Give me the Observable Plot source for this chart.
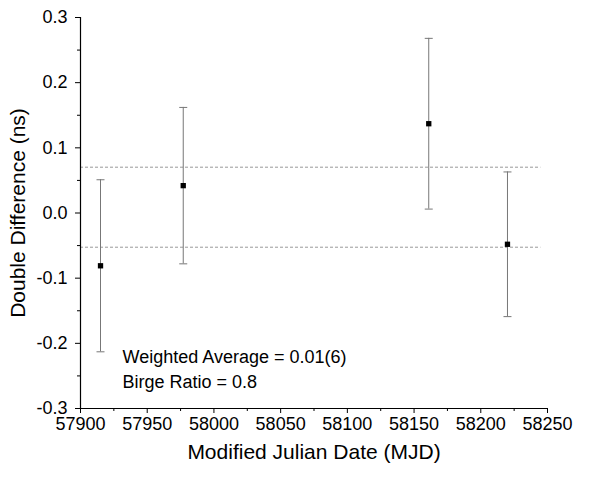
<!DOCTYPE html>
<html>
<head>
<meta charset="utf-8">
<script src="https://cdn.jsdelivr.net/npm/d3@7"></script>
<script src="https://cdn.jsdelivr.net/npm/@observablehq/plot@0.6"></script>
<style>
  html, body { margin: 0; padding: 0; background: #fff; }
  #chart { width: 595px; height: 477px; }
</style>
</head>
<body>
<div id="chart"></div>
<script>
// Data
const mjd = [57915, 57977, 58161, 58220];
const doubleDiff = [-0.081, 0.042, 0.137, -0.048];
const errors = [0.132, 0.120, 0.131, 0.111];
const avgBand = [0.0703, -0.0525];
const xTicks = [57900, 57950, 58000, 58050, 58100, 58150, 58200, 58250];
const xMinor = [57925, 57975, 58025, 58075, 58125, 58175, 58225];
const yTicks = [-0.3, -0.2, -0.1, 0.0, 0.1, 0.2, 0.3];
const yMinor = [-0.25, -0.15, -0.05, 0.05, 0.15, 0.25];
const notes = ["Weighted Average = 0.01(6)", "Birge Ratio = 0.8"];
const noteY = [-0.222, -0.260];
const xTitle = "Modified Julian Date (MJD)";
const yTitle = "Double Difference (ns)";

const points = mjd.map((x, i) => ({x, y: doubleDiff[i], e: errors[i]}));
const noteRows = notes.map((t, i) => ({t, y: noteY[i]}));

const capSymbol = {
  draw(ctx, size) {
    const r = Math.sqrt(size / Math.PI);
    ctx.moveTo(-r, 0);
    ctx.lineTo(r, 0);
  }
};

const chart = Plot.plot({
  width: 595,
  height: 477,
  marginLeft: 80,
  marginRight: 48,
  marginTop: 17,
  marginBottom: 69,
  style: {fontFamily: "'Liberation Sans', Arial, sans-serif", fontSize: "18px", background: "#fff", color: "#000"},
  x: {domain: [57900, 58250]},
  y: {domain: [-0.3, 0.3]},
  marks: [
    // average band
    Plot.ruleY(avgBand, {x1: 57900, x2: 58245, stroke: "#999", strokeDasharray: "3,2", strokeWidth: 1}),
    // error bars
    Plot.ruleX(points, {x: "x", y1: d => d.y - d.e, y2: d => d.y + d.e, stroke: "#777", strokeWidth: 1}),
    Plot.dot(points, {x: "x", y: d => d.y + d.e, symbol: capSymbol, r: 4, stroke: "#777", fill: "none", strokeWidth: 1}),
    Plot.dot(points, {x: "x", y: d => d.y - d.e, symbol: capSymbol, r: 4, stroke: "#777", fill: "none", strokeWidth: 1}),
    Plot.dot(points, {x: "x", y: "y", symbol: "square", r: 3, fill: "#000", stroke: "none"}),
    // axes
    Plot.axisX({ticks: xTicks, tickFormat: d => String(d), tickSize: 5, tickPadding: 4, label: null}),
    Plot.axisX({ticks: xMinor, tickSize: 3, text: null, label: null}),
    Plot.axisY({ticks: yTicks, tickFormat: d => d.toFixed(1), tickSize: 5, tickPadding: 8, label: null}),
    Plot.axisY({ticks: yMinor, tickSize: 3, text: null, label: null}),
    Plot.ruleX([57900], {stroke: "#000", strokeWidth: 1.2}),
    Plot.ruleY([-0.3], {stroke: "#000", strokeWidth: 1.2}),
    // annotations
    Plot.text(noteRows, {x: 57931.5, y: "y", text: "t", textAnchor: "start", fontSize: 18, fill: "#000"}),
    // titles
    Plot.text([xTitle], {frameAnchor: "bottom", dy: 44, textAnchor: "middle", lineAnchor: "middle", fontSize: 21, fill: "#000"}),
    Plot.text([yTitle], {frameAnchor: "left", dx: -62, textAnchor: "middle", lineAnchor: "middle", rotate: -90, fontSize: 21, fill: "#000"})
  ]
});
document.getElementById("chart").appendChild(chart);
</script>
</body>
</html>
